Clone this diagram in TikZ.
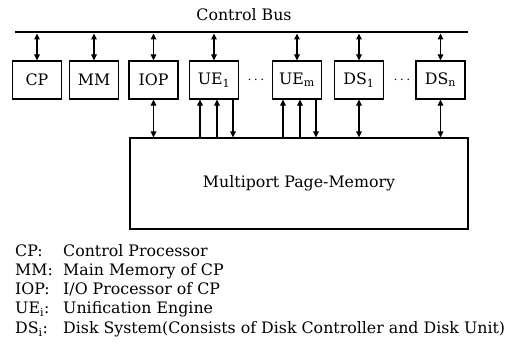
\documentclass[tikz,border=0pt]{standalone}
\usepackage{fontspec}
\setmainfont{DejaVu Serif}
\usepackage{tikz}
\usetikzlibrary{arrows.meta}

\begin{document}
\begin{tikzpicture}[x=1pt,y=-1pt,
  font=\fontsize{15.8}{19}\selectfont,
  unit/.style={draw,line width=1.1pt,minimum width=49pt,minimum height=38pt,inner sep=0pt},
  link/.style={line width=1.1pt,{Triangle[length=6pt,width=5.5pt]}-{Triangle[length=6pt,width=5.5pt]}},
  upl/.style={line width=1.1pt,-{Triangle[length=6pt,width=5.5pt]}},
  dnl/.style={line width=1.1pt,-{Triangle[length=6pt,width=5.5pt]}},
  lbl/.style={anchor=base west,inner sep=0pt}]
  \useasboundingbox (0,0) rectangle (511,353);

  % control bus
  \coordinate (busL) at (15,32);
  \coordinate (busR) at (468,32);
  \draw[line width=1.3pt] (busL) -- (busR);
  \node (busname) at (244,15) {Control Bus};

  % units hanging on the bus
  \node[unit] (cp)  at (37,80)  {CP};
  \node[unit] (mm)  at (94,80)  {MM};
  \node[unit] (iop) at (153.5,80) {IOP};
  \node[unit] (ue1) at (214,80) {UE\textsubscript{1}};
  \node[unit] (uem) at (297,80) {UE\textsubscript{m}};
  \node[unit] (ds1) at (359,80) {DS\textsubscript{1}};
  \node[unit] (dsn) at (440.5,80) {DS\textsubscript{n}};
  \node (dotsA) at (256,80) {$\cdots$};
  \node (dotsB) at (402,80) {$\cdots$};

  \node[draw,line width=1.1pt,minimum width=338pt,minimum height=91pt] (mem) at (299,183.5) {Multiport Page-Memory};

  % bus connections
  \foreach \u in {cp,mm,iop,ue1,uem,ds1,dsn}
    \draw[link,shorten <=1.5pt] (\u.north |- busL) -- (\u.north);

  % memory connections
  \foreach \u in {iop,ds1,dsn}
    \draw[link] (\u.south) -- (\u.south |- mem.north);
  \foreach \u in {ue1,uem} {
    \draw[upl] ([xshift=-14pt]\u.south |- mem.north) -- ([xshift=-14pt]\u.south);
    \draw[upl] ([xshift=3pt]\u.south |- mem.north) -- ([xshift=3pt]\u.south);
    \draw[dnl] ([xshift=19pt]\u.south) -- ([xshift=19pt]\u.south |- mem.north);
  }

  % legend
  \node[lbl] (kcp)  at (15,256)   {CP:};
  \node[lbl] (kmm)  at (15,275.3) {MM:};
  \node[lbl] (kiop) at (15,294.5) {IOP:};
  \node[lbl] (kue)  at (15,313.8) {UE\textsubscript{i}:};
  \node[lbl] (kds)  at (15,333)   {DS\textsubscript{i}:};
  \node[lbl] (tcp)  at (63,256)   {Control Processor};
  \node[lbl] (tmm)  at (63,275.3) {Main Memory of CP};
  \node[lbl] (tiop) at (63,294.5) {I/O Processor of CP};
  \node[lbl] (tue)  at (63,313.8) {Unification Engine};
  \node[lbl] (tds)  at (63,333)   {Disk System(Consists of Disk Controller and Disk Unit)};
\end{tikzpicture}
\end{document}
